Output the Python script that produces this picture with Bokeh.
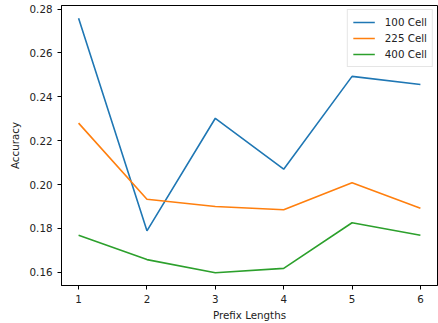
from bokeh.plotting import figure
from bokeh.models import Range1d, FixedTicker, NumeralTickFormatter, Legend, LegendItem
from bokeh.embed import file_html
from bokeh.resources import INLINE

# Accuracy by prefix length for three grid resolutions
prefix_lengths = [1, 2, 3, 4, 5, 6]
acc_100 = [0.2758, 0.1789, 0.2302, 0.2070, 0.2493, 0.2456]
acc_225 = [0.2280, 0.1933, 0.1900, 0.1885, 0.2008, 0.1892]
acc_400 = [0.1769, 0.1658, 0.1598, 0.1618, 0.1826, 0.1769]
series_names = ["100 Cell", "225 Cell", "400 Cell"]
colors = ["#1f77b4", "#ff7f0e", "#2ca02c"]
y_ticks = [0.16, 0.18, 0.20, 0.22, 0.24, 0.26, 0.28]

FONT = "DejaVu Sans"
FS = "10.3px"

p = figure(width=438, height=323, output_backend="svg", toolbar_location=None,
           x_range=Range1d(0.75, 6.25), y_range=Range1d(0.1540, 0.2816),
           min_border_left=61, min_border_right=1, min_border_top=5, min_border_bottom=38)

p.grid.visible = False
p.outline_line_color = "black"
p.outline_line_width = 1
p.background_fill_color = "white"
p.border_fill_color = "white"

items = []
for name, ys, c in zip(series_names, [acc_100, acc_225, acc_400], colors):
    r = p.line(prefix_lengths, ys, line_color=c, line_width=1.6)
    items.append(LegendItem(label=name, renderers=[r]))

for ax in (p.xaxis[0], p.yaxis[0]):
    ax.axis_line_color = "black"
    ax.major_tick_line_color = "black"
    ax.major_tick_out = 4
    ax.major_tick_in = 0
    ax.minor_tick_line_color = None
    ax.major_label_text_font = FONT
    ax.major_label_text_font_size = FS
    ax.major_label_text_color = "#222222"
    ax.axis_label_text_font = FONT
    ax.axis_label_text_font_size = FS
    ax.axis_label_text_font_style = "normal"
    ax.axis_label_text_color = "#222222"

p.xaxis.ticker = FixedTicker(ticks=prefix_lengths)
p.yaxis.ticker = FixedTicker(ticks=y_ticks)
p.yaxis.formatter = NumeralTickFormatter(format="0.00")
p.xaxis.axis_label = "Prefix Lengths"
p.yaxis.axis_label = "Accuracy"
p.xaxis.axis_label_standoff = 3
p.yaxis.axis_label_standoff = 6

legend = Legend(items=items, location="top_right")
legend.label_text_font = FONT
legend.label_text_font_size = FS
legend.label_text_color = "#222222"
legend.border_line_color = "#cccccc"
legend.border_line_width = 1
legend.background_fill_alpha = 0.9
legend.glyph_width = 22
legend.glyph_height = 14
legend.label_height = 14
legend.spacing = 2
legend.padding = 5
legend.margin = 4
legend.label_standoff = 10
p.add_layout(legend)

open("out.html", "w").write(file_html(p, INLINE))
